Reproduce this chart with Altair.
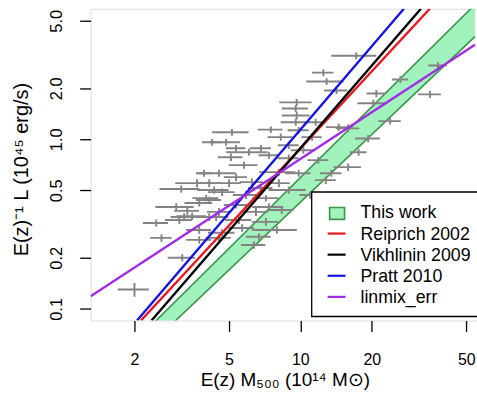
import altair as alt
import pandas as pd

mass = [17.2, 12.5, 12.9, 14.2, 20.9, 35.2, 20.3, 38.0, 26.4, 23.9,
        15.9, 19.3, 17.6, 15.9, 13.5, 12.8, 9.65, 9.56, 9.65, 9.56,
        11.6, 9.84, 7.51, 5.15, 4.86, 8.27, 11.2, 6.82, 5.36, 6.07,
        5.10, 7.37, 8.94, 4.54, 5.36, 8.12, 9.84, 4.13, 5.01, 6.25,
        8.12, 8.94, 4.68, 5.90, 7.16, 4.13, 5.36, 7.37, 8.35, 4.54,
        6.50, 4.13, 5.51, 7.16, 7.96, 5.68, 4.68, 6.69, 3.67, 3.15,
        4.01, 3.75, 3.00, 3.34, 3.24, 3.50, 3.75, 2.60, 3.75, 3.18,
        2.00, 2.47, 3.09, 4.42, 4.54, 4.25, 3.93, 14.5, 8.94, 11.0,
        6.37, 5.79, 4.33, 6.82, 10.3, 11.9]
mass_err = [3.7, 1.3, 2.3, 1.6, 1.9, 3.9, 2.9, 3.4, 2.1, 2.6,
            1.8, 2.3, 1.4, 2.1, 1.4, 1.3, 1.5, 1.2, 1.3, 1.3,
            1.2, 1.0, 0.9, 0.9, 0.7, 1.0, 1.1, 0.7, 0.5, 1.2,
            0.6, 0.7, 0.9, 0.8, 0.6, 1.4, 1.2, 0.5, 0.6, 0.7,
            0.9, 1.6, 0.6, 0.7, 0.9, 0.5, 0.6, 1.1, 1.0, 0.5,
            0.8, 0.5, 0.7, 0.9, 1.7, 0.7, 0.6, 0.8, 0.7, 0.6,
            0.5, 0.5, 0.55, 0.4, 0.4, 0.5, 0.45, 0.27, 0.45, 0.42,
            0.30, 0.3, 0.4, 0.55, 0.55, 0.4, 0.3, 1.7, 0.9, 1.1,
            0.75, 0.8, 0.65, 0.8, 1.2, 1.2]
lum = [3.11, 2.47, 2.19, 1.94, 1.86, 1.84, 1.63, 2.72, 2.25, 1.28,
       1.16, 1.01, 0.839, 0.685, 0.631, 0.574, 1.65, 1.52, 1.38, 1.26,
       1.26, 1.13, 1.14, 1.10, 0.960, 1.03, 1.03, 0.885, 0.885, 0.839,
       0.784, 0.805, 0.773, 0.631, 0.598, 0.640, 0.631, 0.551, 0.551, 0.559,
       0.551, 0.502, 0.488, 0.469, 0.450, 0.438, 0.410, 0.399, 0.383, 0.373,
       0.373, 0.348, 0.334, 0.326, 0.292, 0.300, 0.281, 0.266, 0.551, 0.509,
       0.450, 0.421, 0.399, 0.378, 0.348, 0.352, 0.292, 0.262, 0.255, 0.200,
       0.130, 0.321, 0.334, 0.348, 0.262, 0.960, 0.631, 1.18, 0.922, 0.469,
       0.238, 0.704, 0.502, 0.516, 0.862, 0.753]
lum_err = [0.15, 0.12, 0.10, 0.09, 0.09, 0.09, 0.08, 0.13, 0.10, 0.06,
           0.06, 0.05, 0.04, 0.035, 0.03, 0.03, 0.08, 0.07, 0.07, 0.06,
           0.06, 0.05, 0.05, 0.05, 0.045, 0.05, 0.05, 0.04, 0.04, 0.04,
           0.04, 0.04, 0.04, 0.03, 0.03, 0.03, 0.03, 0.03, 0.03, 0.03,
           0.03, 0.025, 0.025, 0.025, 0.02, 0.02, 0.02, 0.02, 0.02, 0.02,
           0.02, 0.018, 0.017, 0.017, 0.015, 0.015, 0.014, 0.013, 0.03, 0.025,
           0.02, 0.02, 0.02, 0.02, 0.018, 0.018, 0.015, 0.013, 0.013, 0.01,
           0.012, 0.016, 0.017, 0.018, 0.013, 0.045, 0.03, 0.06, 0.045, 0.023,
           0.012, 0.035, 0.025, 0.025, 0.04, 0.035]

x_ticks = [2, 5, 10, 20, 50]
y_ticks = [0.1, 0.2, 0.5, 1.0, 2.0, 5.0]
x_domain = [1.307, 55.5]
y_domain = [0.0854, 5.88]

# published relations (end points)
line_names = ["Reiprich 2002", "Vikhlinin 2009", "Pratt 2010", "linmix_err"]
line_colors = ["#E8191E", "#000000", "#1414E0", "#A02CE6"]
line_mass = [[2.13, 35.1], [2.36, 32.2], [2.05, 27.3], [1.307, 54.4]]
line_lum = [[0.0854, 5.88], [0.0854, 5.88], [0.0854, 5.88], [0.1186, 3.61]]

# "This work" band
band_name = "This work"
band_mass = [2.0, 54.4]
band_lum_hi = [0.0637, 6.23]
band_lum_lo = [0.0502, 4.03]
band_fill = "#A2F2BE"
band_edge = "#3A9648"

legend_labels = [band_name] + line_names

FONT = "Liberation Sans"
W, H = 388, 313

xs = alt.Scale(type="log", domain=x_domain, nice=False)
ys = alt.Scale(type="log", domain=y_domain, nice=False)

x_axis = alt.Axis(values=x_ticks, format="~g", title="E(z) M₅₀₀  (10¹⁴ M⊙)", offset=0,
                  grid=False, domain=False, tickSize=11, tickWidth=1.3, tickColor="black",
                  labelFontSize=16, labelPadding=20, labelColor="black", labelFont=FONT,
                  titleFontSize=19, titleFont=FONT, titleFontWeight="normal", titleColor="black",
                  titleX=195, titleY=59, titleBaseline="middle", titleAlign="center")
y_axis = alt.Axis(values=y_ticks, format=".1f", title="E(z)⁻¹ L  (10⁴⁵ erg/s)", offset=0,
                  grid=False, domain=False, tickSize=11, tickWidth=1.3, tickColor="black",
                  labelFontSize=16.5, labelPadding=23, labelAngle=-90, labelAlign="center",
                  labelBaseline="middle", labelColor="black", labelFont=FONT,
                  titleFontSize=20, titleFont=FONT, titleFontWeight="normal", titleColor="black",
                  titleX=-69, titleY=161, titleBaseline="middle", titleAlign="center", titleAngle=-90)

pts = pd.DataFrame({"M": mass, "dM": mass_err, "L": lum, "dL": lum_err})
base = alt.Chart(pts).transform_calculate(
    M_lo="datum.M - datum.dM", M_hi="datum.M + datum.dM",
    L_lo="datum.L - datum.dL", L_hi="datum.L + datum.dL")

band_df = pd.DataFrame({"M": band_mass, "hi": band_lum_hi, "lo": band_lum_lo})
band = alt.Chart(band_df).mark_area(color=band_fill, clip=True).encode(
    x=alt.X("M:Q", scale=xs, axis=x_axis),
    y=alt.Y("hi:Q", scale=ys, axis=y_axis), y2="lo:Q")
band_hi = alt.Chart(band_df).mark_line(color=band_edge, strokeWidth=1.6, clip=True).encode(
    x=alt.X("M:Q", scale=xs), y=alt.Y("hi:Q", scale=ys))
band_lo = alt.Chart(band_df).mark_line(color=band_edge, strokeWidth=1.6, clip=True).encode(
    x=alt.X("M:Q", scale=xs), y=alt.Y("lo:Q", scale=ys))

hbars = base.mark_rule(color="#838383", strokeWidth=1.9, clip=True).encode(
    x=alt.X("M_lo:Q", scale=xs), x2="M_hi:Q", y=alt.Y("L:Q", scale=ys))
vbars = base.mark_rule(color="#838383", strokeWidth=1.9, clip=True).encode(
    x=alt.X("M:Q", scale=xs), y=alt.Y("L_lo:Q", scale=ys), y2="L_hi:Q")

line_layers = []
for name, col, mm, ll in zip(line_names, line_colors, line_mass, line_lum):
    df = pd.DataFrame({"M": mm, "L": ll, "rel": [name] * len(mm)})
    line_layers.append(alt.Chart(df).mark_line(color=col, strokeWidth=2.4, clip=True).encode(
        x=alt.X("M:Q", scale=xs), y=alt.Y("L:Q", scale=ys)))

# ---- legend box ----
one = pd.DataFrame({"k": [0]})
leg = [alt.Chart(one).mark_rect(fill="white", stroke="black", strokeWidth=1.3, clip=False).encode(
    x=alt.value(222), x2=alt.value(420), y=alt.value(184), y2=alt.value(309))]
row0, step = 204.5, 21.2
for i, lab in enumerate(legend_labels):
    yy = row0 + i * step
    if i == 0:
        leg.append(alt.Chart(one).mark_rect(fill=band_fill, stroke=band_edge, strokeWidth=1.6).encode(
            x=alt.value(240), x2=alt.value(255), y=alt.value(yy - 5), y2=alt.value(yy + 7)))
    else:
        leg.append(alt.Chart(one).mark_rule(color=line_colors[i - 1], strokeWidth=2.2).encode(
            x=alt.value(238), x2=alt.value(256), y=alt.value(yy)))
    leg.append(alt.Chart(one).mark_text(align="left", baseline="middle", fontSize=17.8, font=FONT,
                                        color="black").encode(
        x=alt.value(271), y=alt.value(yy + 1), text=alt.value(lab)))

chart = alt.layer(band, band_hi, band_lo, hbars, vbars, *line_layers, *leg).properties(
    width=W, height=H, autosize="none",
    padding={"left": 91, "top": 8, "right": 0, "bottom": 73},
).configure_view(stroke="black", strokeWidth=1.3).configure(background="white")

chart.save("out.html", embed_options={"renderer": "svg", "actions": False})
